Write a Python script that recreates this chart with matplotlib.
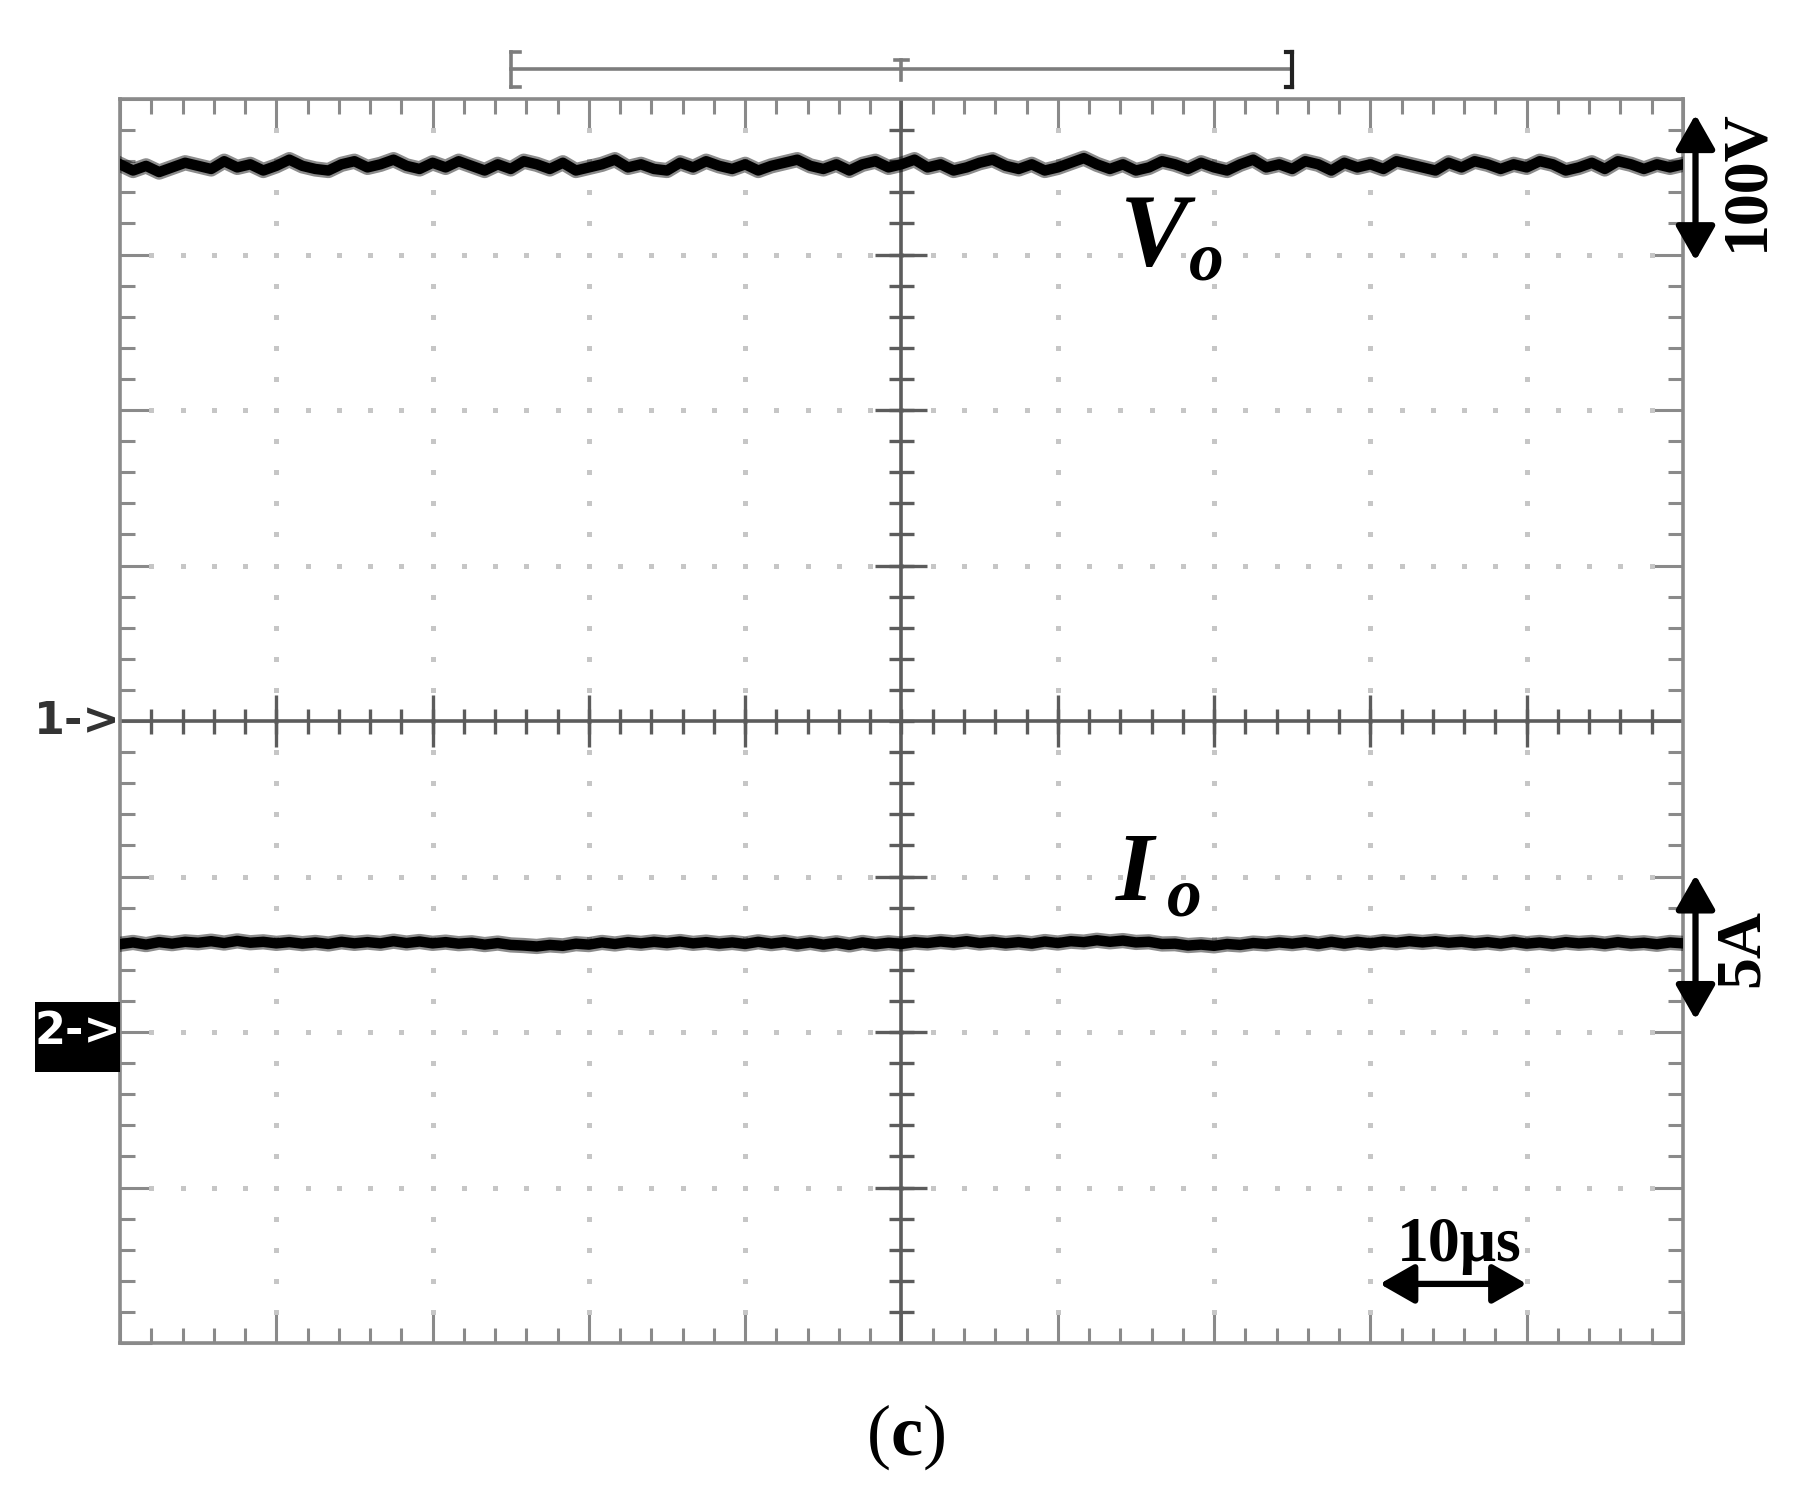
import numpy as np
import matplotlib.pyplot as plt
from matplotlib.patches import Rectangle
from matplotlib.ticker import MultipleLocator

plt.rcParams['mathtext.fontset'] = 'custom'
plt.rcParams['mathtext.rm'] = 'Liberation Serif'
plt.rcParams['mathtext.bf'] = 'Liberation Serif:bold'

# scope settings
volts_per_div = 100
amps_per_div = 5
ch1_ground = 0.0    # divisions
ch2_ground = -2.0

# sample times in divisions (10 us/div)
t_div = np.linspace(0, 10, 121)

# output voltage (V)
vo_volts = [
    358, 354, 357, 353, 356, 359, 357, 355, 360, 356, 358, 354,
    357, 361, 357, 355, 354, 358, 360, 356, 358, 361, 357, 355,
    359, 356, 360, 357, 354, 358, 355, 360, 358, 355, 359, 354,
    356, 358, 361, 356, 358, 355, 354, 359, 356, 360, 357, 355,
    358, 354, 357, 359, 361, 357, 355, 358, 354, 358, 360, 356,
    358, 361, 356, 358, 354, 356, 359, 361, 357, 355, 358, 354,
    356, 359, 362, 358, 355, 358, 354, 356, 360, 358, 355, 359,
    356, 354, 358, 361, 356, 358, 355, 360, 358, 354, 359, 356,
    358, 355, 360, 358, 356, 354, 359, 356, 360, 358, 355, 358,
    356, 360, 358, 354, 356, 359, 355, 360, 358, 355, 358, 356, 358,
]

# output current (A)
io_amps = [
    2.82, 2.88, 2.81, 2.89, 2.84, 2.90, 2.87,
    2.92, 2.86, 2.93, 2.87, 2.90, 2.85, 2.89, 2.84, 2.88, 2.83, 2.90, 2.85,
    2.89, 2.85, 2.92, 2.86, 2.91, 2.85, 2.89, 2.84, 2.87, 2.81, 2.86, 2.80,
    2.78, 2.75, 2.80, 2.77, 2.84, 2.81,
    2.88, 2.83, 2.89, 2.85, 2.90, 2.86, 2.91, 2.85, 2.89, 2.84, 2.88, 2.83,
    2.90, 2.84, 2.89, 2.82, 2.88, 2.81, 2.87, 2.80, 2.88, 2.82, 2.87, 2.83,
    2.89, 2.86, 2.91, 2.87, 2.92, 2.86, 2.90, 2.85, 2.89, 2.84, 2.91, 2.86,
    2.92, 2.89, 2.95, 2.90, 2.94, 2.88, 2.90, 2.83, 2.84, 2.78, 2.81, 2.77,
    2.83, 2.80, 2.86, 2.83, 2.88, 2.84, 2.89, 2.83, 2.90, 2.84, 2.90, 2.85,
    2.91, 2.87, 2.92, 2.88, 2.92, 2.87, 2.90, 2.85, 2.89, 2.84, 2.90, 2.84,
    2.88, 2.83, 2.89, 2.85, 2.88, 2.83, 2.89, 2.84, 2.87, 2.82, 2.88, 2.85,
]

frame_col = '#8a8a8a'
center_col = '#5c5c5c'
dot_col = '#c6c6c6'

fig = plt.figure(figsize=(18.08, 15.06), dpi=100)
ax = fig.add_axes([120 / 1808, 1 - 1343 / 1506, 1563 / 1808, 1244 / 1506])
ax.set_xlim(0, 10)
ax.set_ylim(-4, 4)

for s in ax.spines.values():
    s.set_color(frame_col)
    s.set_linewidth(2.6)

ax.xaxis.set_major_locator(MultipleLocator(1))
ax.yaxis.set_major_locator(MultipleLocator(1))
ax.xaxis.set_minor_locator(MultipleLocator(0.2))
ax.yaxis.set_minor_locator(MultipleLocator(0.2))
ax.tick_params(which='both', direction='in', color=frame_col, width=2.2,
               top=True, right=True, labelbottom=False, labelleft=False)
ax.tick_params(which='major', length=23)
ax.tick_params(which='minor', length=11)

# dotted graticule
inner = np.linspace(-4, 4, 41)[1:-1]
inner_x = np.linspace(0, 10, 51)[1:-1]
for gx in [1, 2, 3, 4, 6, 7, 8, 9]:
    ax.plot(np.full_like(inner, gx), inner, 's', ms=3.6, mew=0, color=dot_col)
for gy in [-3, -2, -1, 1, 2, 3]:
    ax.plot(inner_x, np.full_like(inner_x, gy), 's', ms=3.6, mew=0, color=dot_col)

# centre cross with ticks
ax.axhline(0, color=center_col, lw=2.6)
ax.axvline(5, color=center_col, lw=2.6)
ax.plot(inner_x, np.zeros_like(inner_x), '|', ms=18, mew=2.4, color=center_col)
ax.plot([1, 2, 3, 4, 6, 7, 8, 9], [0] * 8, '|', ms=37, mew=2.4, color=center_col)
ax.plot(np.full_like(inner, 5), inner, '_', ms=18, mew=2.4, color=center_col)
ax.plot([5] * 6, [-3, -2, -1, 1, 2, 3], '_', ms=37, mew=2.4, color=center_col)

# traces
vo_div = np.array(vo_volts) / volts_per_div + ch1_ground
io_div = np.array(io_amps) / amps_per_div + ch2_ground
for y in (vo_div, io_div):
    ax.plot(t_div, y, color='k', lw=11, alpha=0.45, zorder=5)
    ax.plot(t_div, y, color='k', lw=7.5, zorder=6)

# trigger bracket above the screen
kw = dict(color='#7d7d7d', lw=2.6, clip_on=False)
ax.plot([2.5, 7.5], [4.19, 4.19], **kw)
ax.plot([2.5, 2.5], [4.08, 4.30], **kw)
ax.plot([2.5, 2.56], [4.30, 4.30], **kw)
ax.plot([2.5, 2.56], [4.08, 4.08], **kw)
ax.plot([5, 5], [4.12, 4.25], **kw)
ax.plot([4.96, 5.04], [4.25, 4.25], **kw)
kw_r = dict(color='#222222', lw=3, clip_on=False)
ax.plot([7.5, 7.5], [4.08, 4.30], **kw_r)
ax.plot([7.46, 7.5], [4.30, 4.30], **kw_r)
ax.plot([7.46, 7.5], [4.08, 4.08], **kw_r)

# channel markers
ax.text(-0.27, 0.0, '1->', ha='center', va='center', fontsize=32,
        fontweight='bold', color='#333333', family='DejaVu Sans')
ax.add_patch(Rectangle((-0.545, -2.26), 0.545, 0.45, fc='k', ec='none',
                       clip_on=False, zorder=3))
ax.text(-0.27, -2.0, '2->', ha='center', va='center', fontsize=32,
        fontweight='bold', color='white', family='DejaVu Sans', zorder=4)

# labels
lab = dict(family='Liberation Serif', fontweight='bold', fontstyle='italic',
           ha='left', va='baseline', color='k', zorder=7)
ax.text(6.40, 2.93, 'V', fontsize=74, **lab)
ax.text(6.84, 2.84, 'o', fontsize=50, **lab)
ax.text(6.37, -1.15, 'I', fontsize=70, **lab)
ax.text(6.70, -1.25, 'o', fontsize=50, **lab)

scale = dict(family='Liberation Serif', fontweight='bold', color='k')
arrow = dict(arrowstyle='<|-|>,head_length=1.05,head_width=0.6',
             mutation_scale=20, lw=4.5, color='k', shrinkA=0, shrinkB=0)
ax.annotate('', xy=(10.08, 3.90), xytext=(10.08, 2.96),
            arrowprops=arrow, annotation_clip=False)
ax.text(10.41, 3.48, '100V', rotation=90, ha='center', va='center',
        fontsize=46, **scale)
ax.annotate('', xy=(10.08, -0.99), xytext=(10.08, -1.92),
            arrowprops=arrow, annotation_clip=False)
ax.text(10.38, -1.46, '5A', rotation=90, ha='center', va='center',
        fontsize=46, **scale)
ax.annotate('', xy=(8.06, -3.62), xytext=(9.00, -3.62),
            arrowprops=arrow, annotation_clip=False, zorder=7)
ax.text(8.57, -3.47, '10μs', ha='center', va='baseline', fontsize=46,
        zorder=7, **scale)

fig.text(0.501, 0.0458, r'($\mathbf{c}$)', ha='center', va='center',
         fontsize=52, family='Liberation Serif')

fig.savefig('out.png', dpi=100, facecolor='white')
